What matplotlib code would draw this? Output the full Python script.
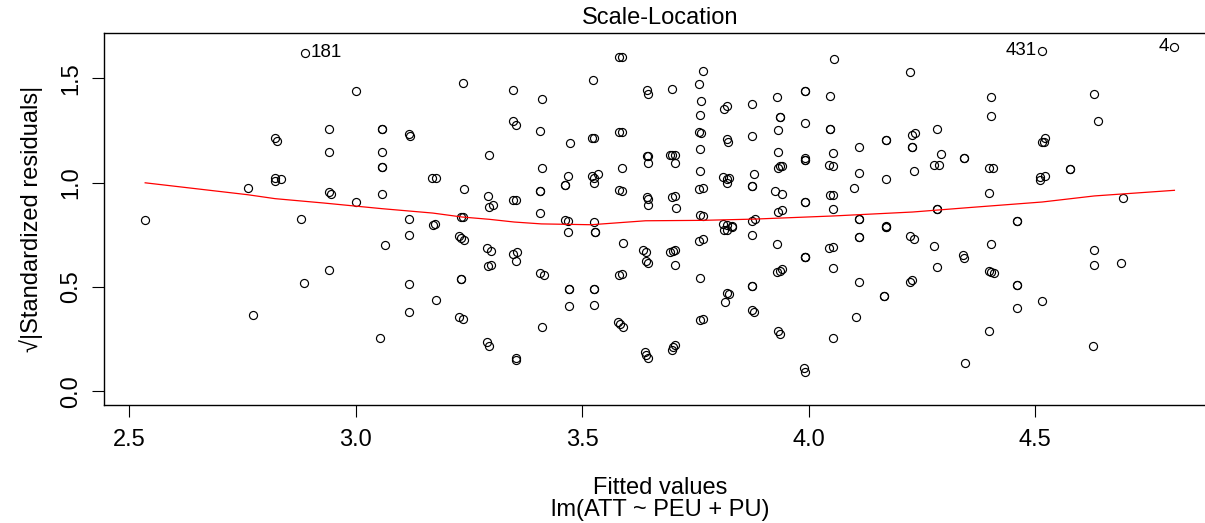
import numpy as np
import matplotlib
matplotlib.use("Agg")
import matplotlib.pyplot as plt

plt.rcParams["font.family"] = ["Liberation Sans", "DejaVu Sans"]

# fitted values and sqrt(|standardized residuals|), read column by column
fitted = [
    2.535, 2.761, 2.773,
    2.822, 2.822, 2.822, 2.827, 2.834,
    2.880, 2.886, 2.888,
    2.941, 2.941, 2.941, 2.941, 2.945,
    3.001, 3.001,
    3.058, 3.058, 3.058, 3.058, 3.058, 3.058, 3.065, 3.054,
    3.118, 3.118, 3.118, 3.118, 3.118, 3.120,
    3.168, 3.178, 3.170, 3.175, 3.178,
    3.237, 3.239, 3.232, 3.237, 3.227, 3.232, 3.239, 3.232, 3.232, 3.229, 3.237,
    3.294, 3.292, 3.294, 3.303, 3.289, 3.299, 3.292, 3.299, 3.289, 3.294,
    3.347, 3.347, 3.347, 3.347, 3.353, 3.353, 3.353, 3.353, 3.353, 3.357,
    3.411, 3.411, 3.407, 3.407, 3.407, 3.407, 3.407, 3.416, 3.411,
    3.473, 3.468, 3.468, 3.468, 3.463, 3.463, 3.463, 3.472, 3.472, 3.472,
    3.523, 3.521, 3.521, 3.526, 3.526, 3.526, 3.526, 3.526, 3.526, 3.526,
    3.534, 3.528, 3.528,
    3.582, 3.582, 3.582, 3.582, 3.587, 3.587, 3.587, 3.589, 3.589, 3.590,
    3.590, 3.579, 3.584,
    3.643, 3.643, 3.643, 3.646, 3.646, 3.646, 3.646, 3.645, 3.645, 3.645,
    3.634, 3.641, 3.641, 3.641, 3.639,
    3.693, 3.693, 3.698, 3.698, 3.698, 3.698, 3.705, 3.705, 3.705, 3.705,
    3.704, 3.704, 3.707, 3.700, 3.701,
    3.766, 3.766, 3.766, 3.766, 3.766, 3.759, 3.762, 3.760, 3.760, 3.760,
    3.760, 3.760, 3.760, 3.757, 3.757, 3.757, 3.762,
    3.813, 3.813, 3.819, 3.819, 3.819, 3.823, 3.812, 3.812, 3.821, 3.821,
    3.821, 3.821, 3.824, 3.824, 3.830, 3.830, 3.816,
    3.875, 3.875, 3.875, 3.875, 3.875, 3.875, 3.875, 3.875, 3.875, 3.880,
    3.880, 3.882,
    3.930, 3.930, 3.930, 3.938, 3.938, 3.938, 3.932, 3.932, 3.932, 3.932,
    3.932, 3.936, 3.936, 3.941, 3.941, 3.941, 3.941, 3.927,
    3.993, 3.993, 3.993, 3.993, 3.993, 3.993, 3.993, 3.993, 3.993, 3.993,
    3.993, 3.993, 3.990,
    4.056, 4.048, 4.048, 4.048, 4.048, 4.054, 4.054, 4.054, 4.054, 4.054,
    4.054, 4.054, 4.046, 4.046,
    4.112, 4.112, 4.112, 4.112, 4.112, 4.112, 4.112, 4.101, 4.105,
    4.170, 4.170, 4.170, 4.170, 4.170, 4.170, 4.167, 4.167,
    4.223, 4.223, 4.228, 4.234, 4.228, 4.228, 4.233, 4.233, 4.225, 4.229,
    4.283, 4.283, 4.283, 4.283, 4.293, 4.277, 4.289, 4.278,
    4.344, 4.344, 4.344, 4.342, 4.346,
    4.404, 4.404, 4.404, 4.404, 4.399, 4.399, 4.399, 4.407, 4.398, 4.410,
    4.460, 4.460, 4.460, 4.460, 4.461,
    4.516, 4.522, 4.522, 4.516, 4.519, 4.512, 4.512, 4.515,
    4.578, 4.578,
    4.631, 4.631, 4.631, 4.639, 4.628,
    4.695, 4.691,
    4.808,
]
sqrt_std_resid = [
    0.820, 0.976, 0.364,
    1.212, 1.024, 1.010, 1.201, 1.016,
    0.825, 0.518, 1.622,
    1.257, 1.149, 0.954, 0.583, 0.947,
    1.437, 0.907,
    1.257, 1.257, 1.148, 1.077, 1.077, 0.946, 0.703, 0.253,
    1.231, 0.825, 0.749, 0.513, 0.380, 1.224,
    1.021, 1.021, 0.798, 0.801, 0.438,
    1.477, 0.970, 0.835, 0.835, 0.742, 0.733, 0.727, 0.536, 0.536, 0.358, 0.345,
    1.130, 0.934, 0.884, 0.891, 0.685, 0.674, 0.600, 0.607, 0.237, 0.219,
    1.442, 1.294, 0.918, 0.660, 1.275, 0.918, 0.624, 0.159, 0.150, 0.665,
    1.402, 1.068, 1.246, 0.959, 0.959, 0.565, 0.853, 0.558, 0.306,
    1.188, 1.032, 0.814, 0.761, 0.990, 0.990, 0.819, 0.489, 0.489, 0.409,
    1.493, 1.212, 1.032, 1.212, 1.023, 0.997, 0.811, 0.489, 0.489, 0.415,
    1.039, 0.761, 0.761,
    1.604, 1.241, 0.965, 0.557, 1.604, 1.241, 1.068, 0.959, 0.560, 0.709,
    0.306, 0.330, 0.322,
    1.443, 1.127, 0.931, 1.424, 1.127, 1.096, 0.923, 0.891, 0.616, 0.161,
    0.677, 0.669, 0.624, 0.174, 0.189,
    1.132, 0.669, 1.448, 1.132, 0.931, 0.199, 1.132, 0.936, 0.677, 0.223,
    1.092, 0.607, 0.880, 0.674, 0.210,
    1.534, 0.976, 0.839, 0.732, 0.347, 1.471, 1.389, 1.326, 1.161, 1.056,
    0.846, 0.542, 0.340, 1.241, 0.971, 0.720, 1.236,
    1.352, 0.773, 1.368, 1.208, 0.472, 1.196, 1.027, 0.802, 1.019, 1.000,
    0.795, 0.773, 1.023, 0.464, 0.791, 0.785, 0.428,
    1.379, 1.224, 0.986, 0.986, 0.814, 0.748, 0.504, 0.504, 0.390, 1.039,
    0.380, 0.827,
    1.410, 0.705, 0.573, 1.315, 1.315, 0.274, 1.253, 1.148, 1.072, 0.859,
    0.287, 1.079, 0.578, 1.080, 0.946, 0.867, 0.584, 0.959,
    1.437, 1.437, 1.287, 1.119, 1.108, 1.108, 0.907, 0.907, 0.645, 0.645,
    0.645, 0.094, 0.113,
    1.593, 1.413, 1.257, 1.257, 0.939, 1.143, 1.080, 0.939, 0.872, 0.692,
    0.589, 0.253, 1.083, 0.685,
    1.171, 1.044, 0.827, 0.827, 0.737, 0.737, 0.525, 0.976, 0.358,
    1.202, 1.202, 1.016, 0.790, 0.787, 0.787, 0.455, 0.455,
    1.529, 0.742, 1.229, 1.236, 1.172, 1.172, 1.056, 0.732, 0.525, 0.531,
    1.257, 0.872, 0.872, 0.594, 1.137, 1.083, 1.083, 0.698,
    1.116, 1.116, 0.637, 0.652, 0.133,
    1.408, 1.317, 0.705, 0.571, 1.072, 0.952, 0.289, 1.072, 0.576, 0.565,
    0.814, 0.814, 0.507, 0.507, 0.400,
    1.633, 1.216, 1.032, 1.193, 1.196, 1.027, 1.012, 0.431,
    1.063, 1.063,
    1.426, 0.676, 0.605, 1.297, 0.219,
    0.928, 0.616,
    1.651,
]

# smoother (red line)
smooth_x = [2.535, 2.761, 2.822, 2.930, 3.058, 3.170, 3.235, 3.295, 3.350, 3.410,
            3.520, 3.640, 3.765, 3.880, 4.054, 4.230, 4.359, 4.516, 4.631, 4.808]
smooth_y = [0.999, 0.942, 0.923, 0.902, 0.875, 0.854, 0.835, 0.824, 0.811, 0.802,
            0.798, 0.817, 0.819, 0.825, 0.840, 0.859, 0.881, 0.907, 0.936, 0.963]

# labelled extreme points
id_labels = ["181", "431", "4"]
id_x = [2.888, 4.516, 4.808]
id_y = [1.622, 1.633, 1.651]

W, H = 1205, 523
fs = 17

fig = plt.figure(figsize=(W / 100, H / 100), dpi=100)
ax_left, ax_w = 104 / W, 1111.6 / W
ax = fig.add_axes([ax_left, 118 / H, ax_w, 372 / H])

ax.plot(fitted, sqrt_std_resid, ls="none", marker="o", ms=5.8,
        mfc="none", mec="black", mew=0.85)
ax.plot(smooth_x, smooth_y, color="red", lw=0.9)

xmid = 0.5 * (min(fitted) + max(fitted))
for lab, x, y in zip(id_labels, id_x, id_y):
    if x < xmid:
        ax.annotate(lab, (x, y), xytext=(4, 0), textcoords="offset points",
                    ha="left", va="center", fontsize=13.5)
    else:
        ax.annotate(lab, (x, y), xytext=(-4, 0), textcoords="offset points",
                    ha="right", va="center", fontsize=13.5)

# R style 4% padding
xr = max(fitted) - min(fitted)
ax.set_xlim(min(fitted) - 0.04 * xr, max(fitted) + 0.04 * xr)
ymax = max(sqrt_std_resid)
ax.set_ylim(-0.04 * ymax, 1.04 * ymax)

ax.set_xticks([2.5, 3.0, 3.5, 4.0, 4.5])
ax.set_xticklabels(["2.5", "3.0", "3.5", "4.0", "4.5"])
ax.set_yticks([0.0, 0.5, 1.0, 1.5])
ax.set_yticklabels(["0.0", "0.5", "1.0", "1.5"], rotation=90, va="center")
ax.tick_params(direction="out", length=8.5, width=0.8, labelsize=fs)
ax.tick_params(axis="x", pad=9)
ax.tick_params(axis="y", pad=7)

for s in ax.spines.values():
    s.set_linewidth(1.0)

cx = ax_left + ax_w / 2
fig.text(cx, 1 - 18 / H, "Scale-Location", ha="center", va="center", fontsize=fs)
fig.text(cx, 1 - 488 / H, "Fitted values", ha="center", va="center", fontsize=fs)
fig.text(cx, 1 - 510 / H, "lm(ATT ~ PEU + PU)", ha="center", va="center", fontsize=fs)
fig.text(31 / W, 1 - 219 / H, "\u221a|Standardized residuals|", rotation=90,
         ha="center", va="center", fontsize=fs)

fig.savefig("out.png", dpi=100)
